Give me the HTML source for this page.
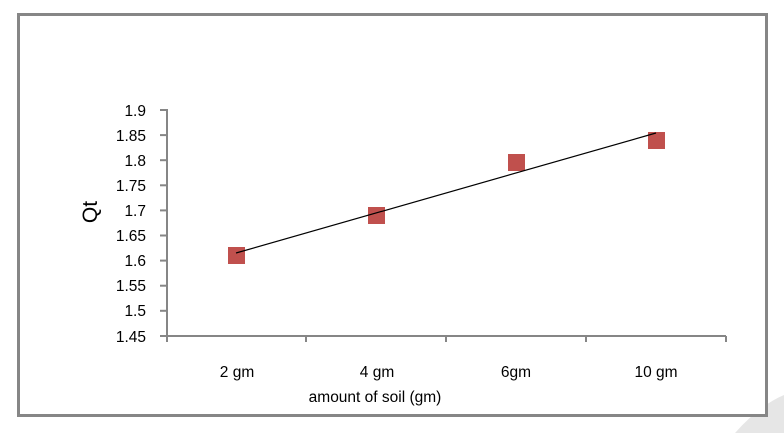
<!DOCTYPE html>
<html><head><style>
body{margin:0;background:#fff;}
svg{display:block;font-family:"Liberation Sans",sans-serif;}
</style></head><body>
<svg width="784" height="433" viewBox="0 0 784 433" xmlns="http://www.w3.org/2000/svg">
<rect width="784" height="433" fill="#fff"/>
<path d="M735 433 Q760 405 784 395 L784 433 Z" fill="#e6e6e6"/>
<rect x="18.5" y="14.5" width="748" height="401" fill="#fff" stroke="#868686" stroke-width="3"/>
<g stroke="#868686" stroke-width="2" fill="none">
<line x1="167" y1="109" x2="167" y2="337"/>
<line x1="167" y1="336" x2="726" y2="336"/>
<g>
<line x1="160" y1="110" x2="167" y2="110"/><line x1="160" y1="135.1" x2="167" y2="135.1"/>
<line x1="160" y1="160.2" x2="167" y2="160.2"/><line x1="160" y1="185.3" x2="167" y2="185.3"/>
<line x1="160" y1="210.4" x2="167" y2="210.4"/><line x1="160" y1="235.5" x2="167" y2="235.5"/>
<line x1="160" y1="260.6" x2="167" y2="260.6"/><line x1="160" y1="285.7" x2="167" y2="285.7"/>
<line x1="160" y1="310.8" x2="167" y2="310.8"/><line x1="160" y1="336" x2="167" y2="336"/>
</g>
<line x1="306" y1="336" x2="306" y2="342"/><line x1="446" y1="336" x2="446" y2="342"/>
<line x1="586" y1="336" x2="586" y2="342"/><line x1="726" y1="336" x2="726" y2="342"/>
<line x1="167" y1="336" x2="167" y2="342"/>
</g>
<g font-size="15.5" text-anchor="end" fill="#000">
<text x="146" y="116">1.9</text><text x="146" y="141">1.85</text><text x="146" y="166">1.8</text>
<text x="146" y="191">1.75</text><text x="146" y="216">1.7</text><text x="146" y="241">1.65</text>
<text x="146" y="266">1.6</text><text x="146" y="291">1.55</text><text x="146" y="316">1.5</text>
<text x="146" y="342">1.45</text>
</g>
<text transform="translate(97,212) rotate(-90)" font-size="21" text-anchor="middle">Qt</text>
<g font-size="15.5" text-anchor="middle">
<text x="237" y="377">2 gm</text><text x="377" y="377">4 gm</text>
<text x="516" y="377">6gm</text><text x="656" y="377">10 gm</text>
<text x="375" y="402">amount of soil (gm)</text>
</g>
<g fill="#c0504d">
<rect x="228" y="247" width="17" height="17"/>
<rect x="368" y="207" width="17" height="17"/>
<rect x="508" y="154" width="17" height="17"/>
<rect x="648" y="132" width="17" height="17"/>
</g>
<line x1="236" y1="253" x2="656" y2="133" stroke="#000" stroke-width="1.2"/>
</svg>
</body></html>
